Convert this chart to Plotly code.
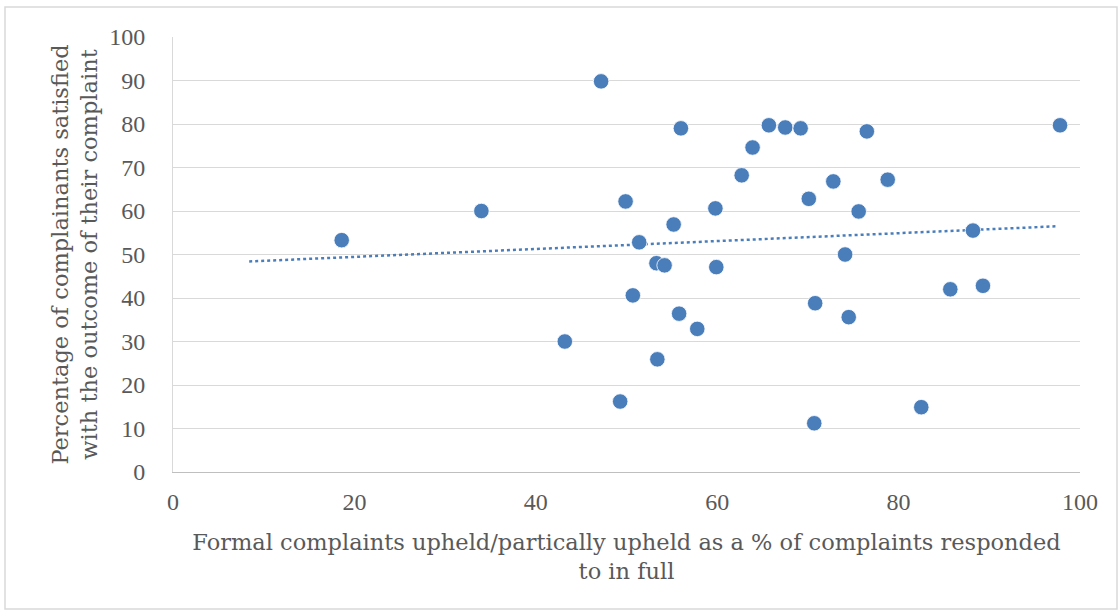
import plotly.graph_objects as go

# Data
upheld_pct = [18.6, 34.0, 43.2, 47.2, 49.3, 49.9, 50.7, 51.4, 53.3, 53.4, 54.2, 55.2,
              55.8, 56.0, 57.8, 59.8, 59.9, 62.7, 63.9, 65.7, 67.5, 69.2, 70.1, 70.8,
              70.7, 72.8, 74.1, 74.5, 75.6, 76.5, 78.8, 82.5, 85.7, 88.2, 89.3, 97.8]
satisfied_pct = [53.3, 60.0, 30.0, 89.8, 16.2, 62.2, 40.6, 52.8, 48.0, 25.9, 47.5, 56.9,
                 36.4, 79.0, 32.9, 60.6, 47.1, 68.2, 74.6, 79.7, 79.2, 79.0, 62.8, 38.8,
                 11.2, 66.8, 50.0, 35.6, 59.9, 78.3, 67.2, 14.9, 42.0, 55.5, 42.8, 79.7]
trend_x = [8.4, 97.6]
trend_y = [48.4, 56.5]
x_ticks = [0, 20, 40, 60, 80, 100]
y_ticks = [0, 10, 20, 30, 40, 50, 60, 70, 80, 90, 100]

BLUE = "#4a7ebb"
TXT = "#595959"
TICK_FONT = "Liberation Serif"
TITLE_FONT = "DejaVu Serif"
FS_TICK = 24
FS_TITLE = 22.5

fig = go.Figure()
fig.add_trace(go.Scatter(x=trend_x, y=trend_y, mode="lines",
                         line=dict(color=BLUE, width=2.5, dash="dot"),
                         showlegend=False, hoverinfo="skip"))
fig.add_trace(go.Scatter(x=upheld_pct, y=satisfied_pct, mode="markers",
                         marker=dict(color=BLUE, size=15.5, line=dict(color="#ffffff", width=0.8)),
                         showlegend=False))

fig.update_layout(
    width=1120, height=614,
    margin=dict(l=173, r=40, t=37, b=142),
    paper_bgcolor="white", plot_bgcolor="white",
    font=dict(family=TICK_FONT, color=TXT, size=FS_TICK),
    xaxis=dict(range=[0, 100], tickvals=x_ticks, showgrid=False, zeroline=False,
               showline=True, linecolor="#bfbfbf", linewidth=1,
               ticks="", ticklabelstandoff=8,
               tickfont=dict(family=TICK_FONT, size=FS_TICK, color=TXT),
               title=dict(text="Formal complaints upheld/partically upheld as a % of complaints responded<br>to in full",
                          font=dict(family=TITLE_FONT, size=FS_TITLE, color=TXT), standoff=20)),
    yaxis=dict(range=[0, 100], tickvals=y_ticks, showgrid=True, gridcolor="#d9d9d9", gridwidth=1,
               zeroline=False, showline=True, linecolor="#d9d9d9", linewidth=1,
               ticks="", ticklabelstandoff=22,
               tickfont=dict(family=TICK_FONT, size=FS_TICK, color=TXT),
               title=dict(text="Percentage of complainants satisfied<br>with the outcome of their complaint",
                          font=dict(family=TITLE_FONT, size=FS_TITLE, color=TXT), standoff=5)),
)
fig.add_shape(type="rect", xref="paper", yref="paper",
              x0=-168/907, x1=1+37/907, y0=-137/435, y1=1+30/435,
              line=dict(color="#d9d9d9", width=1.5), layer="below")

fig.write_html("out.html")
